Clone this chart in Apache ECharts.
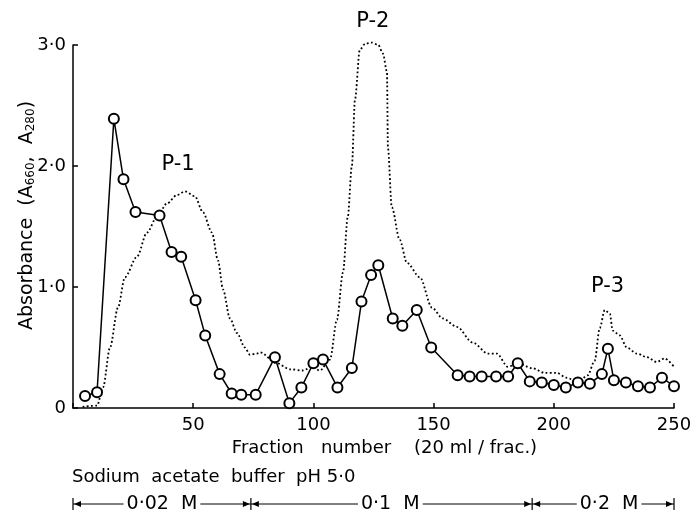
<!DOCTYPE html>
<html>
<head>
<meta charset="UTF-8">
<title>Fraction profile</title>
<script src="https://cdn.jsdelivr.net/npm/echarts@6/dist/echarts.min.js"></script>
<style>
  * {margin: 0; padding: 0;}
  body {background: #fff;}
  #chart {width: 696px; height: 516px;}
</style>
</head>
<body>
<div id="chart"></div>
<script>
// open circles, solid line
var fracSolid = [5, 10, 17, 21, 26, 36, 41, 45, 51, 55, 61, 66, 70, 76, 84, 90, 95, 100, 104, 110,
                 116, 120, 124, 127, 133, 137, 143, 149, 160, 165, 170, 176, 181, 185, 190, 195, 200, 205, 210, 215,
                 220, 222.5, 225, 230, 235, 240, 245, 250];
var absSolid = [0.10, 0.13, 2.39, 1.89, 1.62, 1.59, 1.29, 1.25, 0.89, 0.60, 0.28, 0.12, 0.11, 0.11, 0.42, 0.04, 0.17, 0.37, 0.40, 0.17,
                0.33, 0.88, 1.10, 1.18, 0.74, 0.68, 0.81, 0.50, 0.27, 0.26, 0.26, 0.26, 0.26, 0.37, 0.22, 0.21, 0.19, 0.17, 0.21, 0.20,
                0.28, 0.49, 0.23, 0.21, 0.18, 0.17, 0.25, 0.18];

// dotted curve
var fracDotted = [4, 10, 12.5, 15.4, 18.7, 21.6, 26.6, 30.8, 34.9, 39.1, 43.2, 46.6, 50.7, 54, 57.8, 60.3, 62.4, 65.3, 68.2, 71.5,
                  73.6, 76.5, 77.8, 84.8, 90.2, 95.6, 99.4, 102.7, 106.9, 109.8, 112.3, 114.3, 116, 117.3, 119.3, 121.5, 124.3, 127, 128.9, 130.6,
                  131, 132.6, 135.9, 138.9, 144.3, 149.3, 153.8, 159.7, 166.3, 172.6, 176.3, 180.9, 185, 190.9, 196.3, 201.2, 205.4, 210, 214.1, 217,
                  219.1, 221.2, 223.3, 224.5, 227.4, 230.4, 234.5, 238.7, 242.8, 246.1, 250];
var absDotted = [0.01, 0.02, 0.17, 0.50, 0.83, 1.08, 1.25, 1.45, 1.58, 1.69, 1.76, 1.79, 1.75, 1.62, 1.45, 1.22, 0.98, 0.74, 0.62, 0.50,
                 0.44, 0.45, 0.46, 0.37, 0.32, 0.31, 0.34, 0.31, 0.40, 0.73, 1.12, 1.58, 2.00, 2.55, 2.96, 3.01, 3.02, 3.00, 2.93, 2.78,
                 2.15, 1.66, 1.39, 1.20, 1.08, 0.83, 0.74, 0.67, 0.54, 0.45, 0.45, 0.34, 0.37, 0.33, 0.29, 0.29, 0.25, 0.21, 0.27, 0.39,
                 0.66, 0.81, 0.78, 0.64, 0.60, 0.50, 0.45, 0.42, 0.38, 0.41, 0.34];

var xTickLabels = ['', '50', '100', '150', '200', '250'];
var yTickLabels = ['0', '1\u00b70', '2\u00b70', '3\u00b70'];

// peak names, placed at data coordinates
var peakNames = ['P-1', 'P-2', 'P-3'];
var peakX = [43.7, 124.7, 222.4];
var peakY = [2.01, 3.19, 1.0];

// elution buffer steps (fraction numbers)
var bufferTitle = 'Sodium  acetate  buffer  pH 5\u00b70';
var bufferEdges = [0, 74, 191, 250];
var bufferNames = ['0\u00b702  M', '0\u00b71  M', '0\u00b72  M'];
var bufferMid = [37, 132, 223];

var FONT = '"DejaVu Sans", sans-serif';
var INK = '#000';

function pairs(xs, ys) {
    var out = [];
    for (var i = 0; i < xs.length; i++) out.push([xs[i], ys[i]]);
    return out;
}

var chart = echarts.init(document.getElementById('chart'));

var option = {
    animation: false,
    backgroundColor: '#fff',
    grid: {left: 73, right: 22, top: 45, bottom: 108},
    xAxis: {
        type: 'value',
        min: 0, max: 250, interval: 50,
        name: 'Fraction   number    (20 ml / frac.)',
        nameLocation: 'middle',
        nameGap: 30,
        nameTextStyle: {fontFamily: FONT, fontSize: 18, color: INK, padding: [0, 0, 0, 22]},
        axisLine: {lineStyle: {color: INK, width: 1.5}},
        axisTick: {inside: true, length: 5, lineStyle: {color: INK, width: 1.5}},
        axisLabel: {
            fontFamily: FONT, fontSize: 18, color: INK, margin: 8,
            formatter: function (v) { return xTickLabels[Math.round(v / 50)]; }
        },
        splitLine: {show: false}
    },
    yAxis: {
        type: 'value',
        min: 0, max: 3, interval: 1,
        name: 'Absorbance  (A{sub|660},  A{sub|280})',
        nameLocation: 'middle',
        nameRotate: 90,
        nameGap: 36,
        nameMoveOverlap: false,
        nameTextStyle: {
            fontFamily: FONT, fontSize: 19, color: INK, padding: [0, 0, 0, 22],
            rich: {sub: {fontFamily: FONT, fontSize: 12, color: INK, verticalAlign: 'bottom', padding: [5, 0, 0, 0]}}
        },
        axisLine: {lineStyle: {color: INK, width: 1.5}},
        axisTick: {inside: true, length: 5, lineStyle: {color: INK, width: 1.5}},
        axisLabel: {
            fontFamily: FONT, fontSize: 18, color: INK, margin: 7,
            formatter: function (v) { return yTickLabels[Math.round(v)]; }
        },
        splitLine: {show: false}
    },
    series: [
        {
            name: 'dotted',
            type: 'line',
            data: pairs(fracDotted, absDotted),
            showSymbol: false,
            smooth: 0.3,
            smoothMonotone: 'x',
            clip: false,
            lineStyle: {color: INK, width: 1.8, type: [1.8, 2.4]},
            z: 2
        },
        {
            name: 'circles',
            type: 'line',
            data: pairs(fracSolid, absSolid),
            symbol: 'emptyCircle',
            symbolSize: 10,
            clip: false,
            lineStyle: {color: INK, width: 1.5},
            itemStyle: {color: INK, borderColor: INK, borderWidth: 1.6},
            z: 3
        }
    ]
};

chart.setOption(option);

// annotations: peak labels and the buffer bar under the axis
var g = [];
for (var i = 0; i < peakNames.length; i++) {
    var p = chart.convertToPixel({gridIndex: 0}, [peakX[i], peakY[i]]);
    g.push({type: 'text', x: p[0], y: p[1], z: 10,
        style: {text: peakNames[i], font: '21px ' + FONT, fill: INK, align: 'center', verticalAlign: 'middle'}});
}

function px(v) { return chart.convertToPixel({xAxisIndex: 0}, v); }

var yTitle = 477, yBar = 504;
g.push({type: 'text', x: px(0) - 1, y: yTitle,
    style: {text: bufferTitle, font: '18px ' + FONT, fill: INK, align: 'left', verticalAlign: 'middle'}});

for (var k = 0; k < bufferNames.length; k++) {
    var a = px(bufferEdges[k]), b = px(bufferEdges[k + 1]);
    g.push({type: 'line', shape: {x1: a, y1: yBar, x2: b, y2: yBar}, style: {stroke: INK, lineWidth: 1}});
    g.push({type: 'polygon', shape: {points: [[a + 1, yBar], [a + 8, yBar - 3], [a + 8, yBar + 3]]}, style: {fill: INK}});
    g.push({type: 'polygon', shape: {points: [[b - 1, yBar], [b - 8, yBar - 3], [b - 8, yBar + 3]]}, style: {fill: INK}});
    g.push({type: 'text', x: px(bufferMid[k]), y: yBar, z: 10,
        style: {text: bufferNames[k], font: '19px ' + FONT, fill: INK, align: 'center', verticalAlign: 'middle',
            backgroundColor: '#fff', padding: [0, 3]}});
}
for (var m = 0; m < bufferEdges.length; m++) {
    var e = px(bufferEdges[m]);
    g.push({type: 'line', shape: {x1: e, y1: yBar - 6, x2: e, y2: yBar + 6}, style: {stroke: INK, lineWidth: 1.2}});
}

chart.setOption({graphic: g});
</script>
</body>
</html>
